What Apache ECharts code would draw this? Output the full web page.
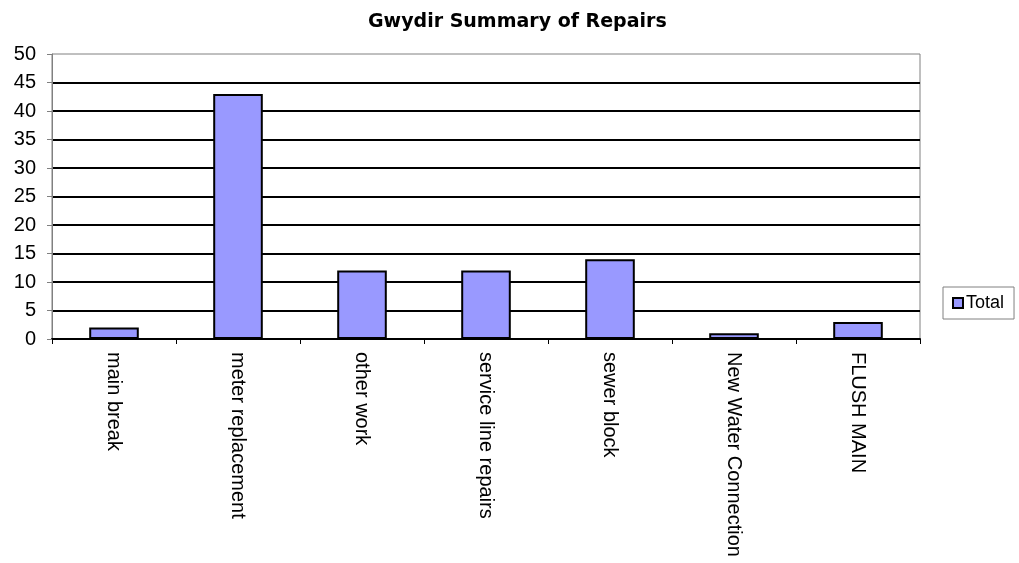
<!DOCTYPE html>
<html>
<head>
<meta charset="utf-8">
<script src="https://cdn.jsdelivr.net/npm/echarts@6/dist/echarts.min.js"></script>
<style>
  html, body { margin: 0; padding: 0; background: #ffffff; }
  #chart { width: 1019px; height: 563px; }
</style>
</head>
<body>
<div id="chart"></div>
<script>
var categories = ["main break", "meter replacement", "other work", "service line repairs", "sewer block", "New Water Connection", "FLUSH MAIN"];
var totals = [2, 43, 12, 12, 14, 1, 3];
var yTicks = [0, 50, 5]; // min, max, interval

var mychart = echarts.init(document.getElementById("chart"));
var option = {
  animation: false,
  textStyle: { fontFamily: "Liberation Sans, Arial, sans-serif", color: "#000000" },
  title: {
    text: "Gwydir Summary of Repairs",
    left: 363,
    top: 8,
    textStyle: { fontFamily: "DejaVu Sans", fontWeight: "bold", fontSize: 19, color: "#000000" }
  },
  legend: {
    data: ["Total"],
    left: 943,
    top: 287,
    orient: "vertical",
    padding: [7, 10, 7, 9],
    borderColor: "#808080",
    borderWidth: 1,
    icon: "rect",
    itemWidth: 10,
    itemHeight: 10,
    itemGap: 4,
    textStyle: { fontSize: 18, color: "#000000", fontFamily: "Liberation Sans", padding: [0, 0, 0, -2] }
  },
  grid: {
    left: 52,
    right: 99,
    top: 54,
    bottom: 224,
    show: true,
    borderColor: "#808080",
    borderWidth: 1
  },
  xAxis: {
    type: "category",
    data: categories,
    axisLine: { lineStyle: { color: "#000000", width: 2 } },
    axisTick: { show: true, length: 5, lineStyle: { color: "#000000" } },
    axisLabel: {
      rotate: -90,
      margin: 13,
      fontSize: 20,
      color: "#000000",
      interval: 0
    }
  },
  yAxis: {
    type: "value",
    min: yTicks[0],
    max: yTicks[1],
    interval: yTicks[2],
    axisLine: { show: true, lineStyle: { color: "#808080", width: 1 } },
    axisTick: { show: true, length: 5, lineStyle: { color: "#808080" } },
    axisLabel: { fontSize: 20, color: "#000000", margin: 16 },
    splitLine: {
      show: true,
      showMaxLine: false,
      lineStyle: { color: "#000000", width: 2 }
    }
  },
  series: [
    {
      name: "Total",
      type: "bar",
      data: totals,
      barWidth: "40%",
      itemStyle: { color: "#9999ff", borderColor: "#000000", borderWidth: 2 }
    }
  ]
};
mychart.setOption(option, true);
</script>
</body>
</html>
